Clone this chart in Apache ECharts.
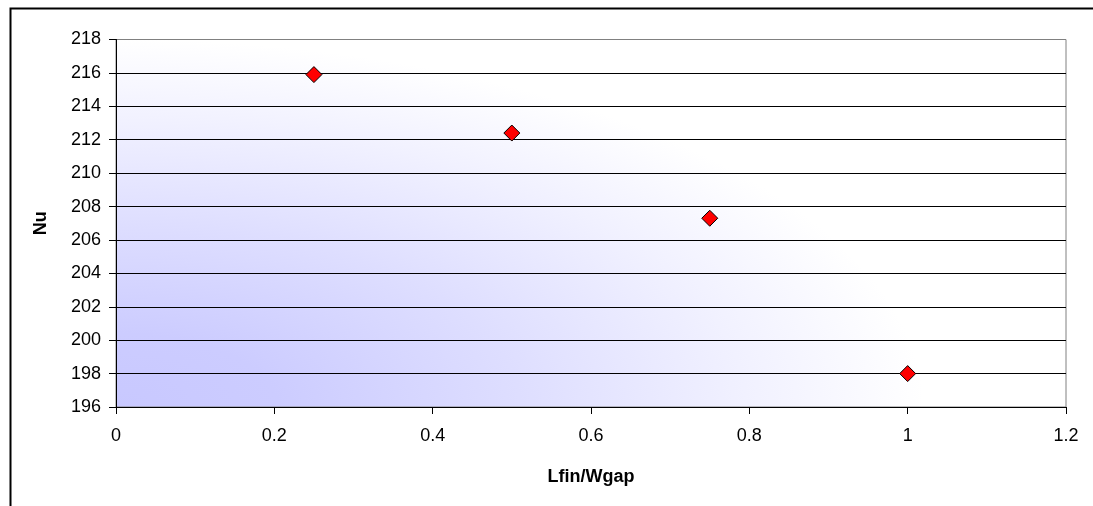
<!DOCTYPE html>
<html>
<head>
<meta charset="utf-8">
<script src="https://cdn.jsdelivr.net/npm/echarts@6/dist/echarts.min.js"></script>
<style>
  html, body { margin: 0; padding: 0; background: #ffffff; }
  #chart { width: 1093px; height: 506px; }
</style>
</head>
<body>
<div id="chart"></div>
<script>
// Nusselt number vs. fin length / gap width ratio
const ratio = [0.25, 0.5, 0.75, 1.0];
const nu = [215.9, 212.4, 207.3, 198.0];
const xTitle = 'Lfin/Wgap';
const yTitle = 'Nu';

const points = ratio.map((r, i) => [r, nu[i]]);
const font = 'Liberation Sans, Arial, sans-serif';

const W = 1093, H = 506;
const plot = { left: 116, right: 27, top: 39.5, bottom: 99 };
const plotW = W - plot.left - plot.right;
const plotH = H - plot.top - plot.bottom;

// Plot-area fill: elliptical blue-to-white fade spreading from the lower-left corner
function cornerFade() {
  const c = document.createElement('canvas');
  c.width = W; c.height = H;
  const ctx = c.getContext('2d');
  ctx.fillStyle = '#ffffff';
  ctx.fillRect(0, 0, W, H);
  ctx.save();
  ctx.translate(plot.left, plot.top + plotH);
  ctx.scale(plotW * 0.85, plotH * 1.0);
  const g = ctx.createRadialGradient(0, 0, 0, 0, 0, 1);
  g.addColorStop(0, '#c8c8ff');
  g.addColorStop(0.2, '#ccccff');
  g.addColorStop(0.5, '#dedeff');
  g.addColorStop(0.78, '#f1f1ff');
  g.addColorStop(1, '#ffffff');
  ctx.fillStyle = g;
  ctx.fillRect(-0.1, -2, 3, 3);
  ctx.restore();
  return c;
}

const chart = echarts.init(document.getElementById('chart'), null, { renderer: 'canvas' });
chart.setOption({
  animation: false,
  backgroundColor: '#ffffff',
  graphic: [{
    type: 'rect',
    left: 8, top: 6,
    shape: { width: 1200, height: 600 },
    style: { fill: 'none', stroke: '#000000', lineWidth: 2 },
    z: 100
  }],
  grid: {
    left: plot.left, right: plot.right, top: plot.top, bottom: plot.bottom,
    show: true,
    borderColor: '#808080',
    borderWidth: 1,
    backgroundColor: { image: cornerFade(), repeat: 'no-repeat' }
  },
  xAxis: {
    type: 'value',
    min: 0, max: 1.2, interval: 0.2,
    name: xTitle,
    nameLocation: 'middle',
    nameGap: 61,
    nameTextStyle: { fontFamily: font, fontSize: 18, fontWeight: 'bold', color: '#000' },
    axisLine: { show: true, onZero: false, lineStyle: { color: '#000', width: 1 } },
    axisTick: { show: true, inside: false, length: 7, lineStyle: { color: '#000' } },
    axisLabel: { fontFamily: font, fontSize: 18, color: '#000', margin: 20,
      formatter: v => String(Math.round(v * 10) / 10) },
    splitLine: { show: false }
  },
  yAxis: {
    type: 'value',
    min: 196, max: 218, interval: 2,
    name: yTitle,
    nameLocation: 'middle',
    nameGap: 66,
    nameRotate: 90,
    nameTextStyle: { fontFamily: font, fontSize: 18, fontWeight: 'bold', color: '#000' },
    axisLine: { show: true, onZero: false, lineStyle: { color: '#000', width: 1 } },
    axisTick: { show: true, inside: false, length: 7, lineStyle: { color: '#000' } },
    axisLabel: { fontFamily: font, fontSize: 18, color: '#000', margin: 15 },
    splitLine: { show: true, showMinLine: false, showMaxLine: false,
      lineStyle: { color: '#000000', width: 1 } }
  },
  series: [{
    type: 'scatter',
    data: points,
    symbol: 'diamond',
    symbolSize: [16, 16],
    itemStyle: { color: '#ff0000', borderColor: '#000000', borderWidth: 1, opacity: 1 },
    z: 10
  }]
});
</script>
</body>
</html>
